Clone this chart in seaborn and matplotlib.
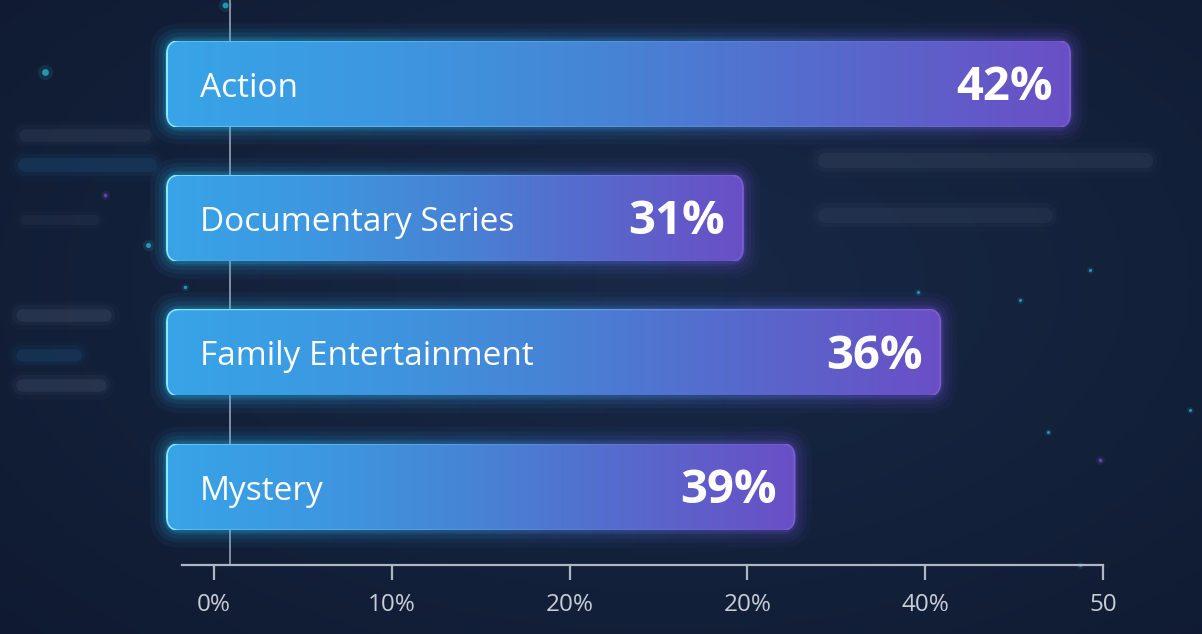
import numpy as np
import pandas as pd
import matplotlib
matplotlib.use("Agg")
import matplotlib.pyplot as plt
import seaborn as sns
from matplotlib.patches import FancyBboxPatch
from matplotlib.colors import LinearSegmentedColormap

# ---------------- data ----------------
categories = ["Action", "Documentary Series", "Family Entertainment", "Mystery"]
bar_lengths = [48.1, 29.7, 40.8, 32.6]      # bar ends measured against the x axis
value_labels = [42, 31, 36, 39]             # percentages printed on the bars
tick_values = [0, 10, 20, 30, 40, 50]
tick_labels = ["0%", "10%", "20%", "20%", "40%", "50"]

# ---------------- style ----------------
W, H, DPI = 1202, 634, 100
BAR_START = -2.6          # bars begin slightly left of the zero tick
AXIS_LINE_X = 0.9         # vertical guide line position
sns.set_theme(style="dark")
plt.rcParams['font.family'] = ['Open Sans', 'DejaVu Sans']

fig = plt.figure(figsize=(W / DPI, H / DPI), dpi=DPI)
fig.patch.set_facecolor('#13203a')

# background
bg = fig.add_axes([0, 0, 1, 1])
bg.set_axis_off()
yy, xx = np.mgrid[0:1:300j, 0:1:600j]
d = np.sqrt(((xx - 0.55) * 1.1) ** 2 + ((yy - 0.45) * 1.0) ** 2)
c_in = np.array([0x18, 0x28, 0x46]) / 255
c_out = np.array([0x0f, 0x1a, 0x30]) / 255
t = np.clip(d / 0.85, 0, 1)[..., None]
bg.imshow(c_in * (1 - t) + c_out * t, extent=[0, 1, 0, 1], aspect='auto', origin='upper', zorder=0)
bg.set_xlim(0, 1)
bg.set_ylim(0, 1)


def blob(x0, x1, y, color, lw=10, alpha=0.10):
    for k, a in [(1.0, alpha), (1.6, alpha * 0.5), (2.3, alpha * 0.25)]:
        bg.plot([x0 / W, x1 / W], [1 - y / H, 1 - y / H], color=color, lw=lw * k,
                alpha=a, solid_capstyle='round', zorder=1)


# blurred decorative pseudo-text
blob(25, 145, 135, '#8a97b5', 9, 0.08)
blob(25, 150, 165, '#2f8fd0', 10, 0.12)
blob(25, 95, 220, '#8a97b5', 7, 0.05)
blob(22, 105, 315, '#9aa5c0', 9, 0.10)
blob(22, 75, 355, '#2f8fd0', 9, 0.11)
blob(22, 100, 385, '#9aa5c0', 9, 0.10)
blob(825, 1145, 160, '#8a97b5', 11, 0.08)
blob(825, 1045, 215, '#8a97b5', 11, 0.07)
for (px, py, col, s) in [(45, 72, '#2fc0e0', 40), (148, 245, '#2fc0e0', 22), (185, 287, '#2fc0e0', 10),
                         (225, 5, '#2fc0e0', 30), (105, 195, '#7a4fd0', 14), (1048, 432, '#2fc0e0', 8),
                         (1090, 270, '#2fc0e0', 8), (1020, 300, '#2fc0e0', 8), (1100, 460, '#7a4fd0', 14),
                         (1190, 410, '#2fc0e0', 8), (918, 292, '#2fc0e0', 8), (1080, 565, '#2fc0e0', 8)]:
    bg.scatter([px / W], [1 - py / H], s=s * 3, color=col, alpha=0.12, lw=0, zorder=1)
    bg.scatter([px / W], [1 - py / H], s=s * 0.6, color=col, alpha=0.7, lw=0, zorder=1)

# main axes
px_left, px_right, px_axis = 182, 1103, 565
ax = fig.add_axes([px_left / W, (H - px_axis) / H, (px_right - px_left) / W, px_axis / H])
ax.set_facecolor('none')
df = pd.DataFrame({'category': categories, 'length': bar_lengths})
sns.barplot(data=df, x='length', y='category', orient='h', ax=ax, width=0.633, color='#4a7ad0')
XLIM = (-1.8, 50)
YLIM = (3.58, -0.625)
ax.set_xlim(*XLIM)
ax.set_ylim(*YLIM)

fig.canvas.draw()
p0 = ax.transData.transform((0, 0))
sx = ax.transData.transform((1, 0))[0] - p0[0]
sy = abs(ax.transData.transform((0, 1))[1] - p0[1])
asp = sx / sy

fill_cmap = LinearSegmentedColormap.from_list('fill', ['#38a4e8', '#3d97e0', '#4783d5', '#5868cc', '#6a4fc6'])
edge_cmap = LinearSegmentedColormap.from_list('edge', ['#8aeaff', '#6ccdf6', '#6a8ade', '#7a60d0'])
glow_cmap = LinearSegmentedColormap.from_list('glow', ['#2cc8ff', '#3a98ea', '#7a4fe0'])
grad = np.linspace(0, 1, 512)[None, :]


def rpatch(x0, y0, w, h, r_px, e_px):
    return FancyBboxPatch((x0, y0), w, h,
                          boxstyle=f"round,pad={e_px / sx},rounding_size={(r_px + e_px) / sx}",
                          mutation_aspect=asp, transform=ax.transData,
                          facecolor='none', edgecolor='none', clip_on=False)


def grad_fill(patch, cmap, ext, alpha, z):
    ax.add_patch(patch)
    im = ax.imshow(grad, cmap=cmap, extent=ext, aspect='auto', alpha=alpha, zorder=z,
                   interpolation='bilinear')
    im.set_clip_path(patch)
    im.set_clip_box(fig.bbox)


bars = [p for p in ax.patches]
for p in bars:
    y0, h, w = p.get_y(), p.get_height(), p.get_width()
    p.remove()
    x0 = BAR_START
    bw = w - BAR_START
    ext_glow = [x0 - 1.5, w + 1.5, y0 + h + 0.2, y0 - 0.2]
    for e, a in [(18, 0.05), (13, 0.07), (9, 0.09), (5, 0.13), (3, 0.16)]:
        grad_fill(rpatch(x0, y0, bw, h, 13, e), glow_cmap, ext_glow, a, 2)
    grad_fill(rpatch(x0, y0, bw, h, 13, 1.8), edge_cmap, [x0 - 0.2, w + 0.2, y0 + h, y0], 1.0, 3)
    grad_fill(rpatch(x0, y0, bw, h, 12, 0), fill_cmap, [x0, w, y0 + h, y0], 1.0, 4)

ax.set_xlim(*XLIM)
ax.set_ylim(*YLIM)

for i, (cat, length, val) in enumerate(zip(categories, bar_lengths, value_labels)):
    ax.annotate(cat, xy=(BAR_START, i), xytext=(23, -3), textcoords='offset points',
                ha='left', va='center', color='white', fontsize=24, zorder=6,
                annotation_clip=False)
    ax.annotate(f"{val}%", xy=(length, i), xytext=(-12, -2.5), textcoords='offset points',
                ha='right', va='center', color='white', fontsize=34, fontweight='bold', zorder=6,
                annotation_clip=False)

# axes styling
for s in ['top', 'right']:
    ax.spines[s].set_visible(False)
ax.spines['left'].set_position(('data', AXIS_LINE_X))
ax.spines['left'].set_color('#8e97aa')
ax.spines['left'].set_linewidth(1.3)
ax.spines['left'].set_zorder(1)
ax.spines['bottom'].set_color('#b0b6c3')
ax.spines['bottom'].set_linewidth(1.6)
ax.set_yticks([])
ax.set_xticks(tick_values)
ax.set_xticklabels(tick_labels)
ax.tick_params(axis='x', length=11, width=1.6, color='#b0b6c3', labelcolor='#c8ccd6',
               labelsize=17.5, pad=9, direction='out', bottom=True)
ax.set_xlabel('')
ax.set_ylabel('')
ax.grid(False)

fig.savefig('out.png', dpi=DPI, facecolor=fig.get_facecolor())
